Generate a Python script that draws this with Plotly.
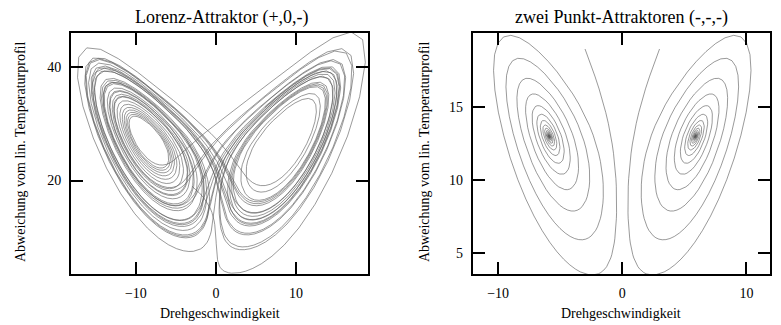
import numpy as np
import plotly.graph_objects as go

# Lorenz model parameters (Prandtl number, geometry factor, Rayleigh ratios)
SIGMA = 10.0
B_COEF = 8.0 / 3.0
R_VALUES = [28.0, 14.0]           # chaotic attractor, two point attractors

# start states (x, y, z) for each panel
STARTS_LEFT = [[-3.0, 2.0914, 19.0]]
STARTS_RIGHT = [[-3.0, -0.863, 19.0], [3.0, 0.863, 19.0]]
T_END = [35.0, 15.0]
DT_OUT = 0.02
SUBSTEPS = 4

TITLES = ["Lorenz-Attraktor (+,0,-)", "zwei Punkt-Attraktoren (-,-,-)"]
X_LABEL = "Drehgeschwindigkeit"
Y_LABEL = "Abweichung vom lin. Temperaturprofil"
X_TICKS = [-10, 0, 10]
Y_TICKS_LEFT = [20, 40]
Y_TICKS_RIGHT = [5, 10, 15]
X_RANGES = [[-18.1, 19.0], [-12.05, 11.9]]
Y_RANGES = [[3.6, 45.9], [3.54, 20.1]]


def rhs(s, r):
    x, y, z = s
    return np.array([SIGMA * (y - x), x * (r - z) - y, x * y - B_COEF * z])


def trajectory(start, r, t_end):
    h = DT_OUT / SUBSTEPS
    n = int(round(t_end / DT_OUT))
    s = np.array(start, dtype=float)
    out = np.empty((n + 1, 3))
    out[0] = s
    for i in range(n):
        for _ in range(SUBSTEPS):
            k1 = rhs(s, r)
            k2 = rhs(s + 0.5 * h * k1, r)
            k3 = rhs(s + 0.5 * h * k2, r)
            k4 = rhs(s + h * k3, r)
            s = s + h / 6.0 * (k1 + 2 * k2 + 2 * k3 + k4)
        out[i + 1] = s
    return out


W, H = 781, 325
FONT = "Liberation Serif, Times New Roman, serif"
LINE_COLOR = "#555555"

fig = go.Figure()

panels = [
    ("x", "y", STARTS_LEFT, R_VALUES[0], T_END[0]),
    ("x2", "y2", STARTS_RIGHT, R_VALUES[1], T_END[1]),
]
for xa, ya, starts, r, t_end in panels:
    for st in starts:
        tr = trajectory(st, r, t_end)
        fig.add_trace(go.Scatter(
            x=tr[:, 0], y=tr[:, 2], mode="lines", xaxis=xa, yaxis=ya,
            line=dict(color=LINE_COLOR, width=0.6), showlegend=False,
            hoverinfo="skip"))

# plot area boxes in pixels: (left, right, top, bottom)
boxes = [(71, 368, 33, 274), (472.7, 770, 33, 274)]


def px_x(v):
    return v / W


def px_y(v):
    return 1 - v / H


axis_common = dict(
    showline=True, linecolor="black", linewidth=2, mirror="ticks",
    ticks="inside", ticklen=12, tickwidth=1.6, tickcolor="black",
    showgrid=False, zeroline=False,
    tickfont=dict(family=FONT, size=14, color="black"),
    ticklabelstandoff=5,
)

layout = dict(
    width=W, height=H, margin=dict(l=0, r=0, t=0, b=0),
    paper_bgcolor="white", plot_bgcolor="white",
    font=dict(family=FONT, color="black"),
)
y_ticks = [Y_TICKS_LEFT, Y_TICKS_RIGHT]
for i, (l, rgt, t, b) in enumerate(boxes):
    sx = "" if i == 0 else str(i + 1)
    layout["xaxis" + sx] = dict(
        axis_common, domain=[px_x(l), px_x(rgt)], range=X_RANGES[i],
        tickvals=X_TICKS, anchor="y" + sx)
    layout["yaxis" + sx] = dict(
        axis_common, domain=[px_y(b), px_y(t)], range=Y_RANGES[i],
        tickvals=y_ticks[i], anchor="x" + sx)

fig.update_layout(**layout)

annotations = []
title_x = [222, 621.5]
ytitle_x = [21, 425]
for i, (l, rgt, t, b) in enumerate(boxes):
    annotations.append(dict(
        text=TITLES[i], x=px_x(title_x[i]), y=px_y(18), xref="paper", yref="paper",
        showarrow=False, xanchor="center", yanchor="middle",
        font=dict(family=FONT, size=18, color="black")))
    annotations.append(dict(
        text=X_LABEL, x=px_x((l + rgt) / 2), y=px_y(313), xref="paper", yref="paper",
        showarrow=False, xanchor="center", yanchor="middle",
        font=dict(family=FONT, size=14, color="black")))
    annotations.append(dict(
        text=Y_LABEL, x=px_x(ytitle_x[i]), y=px_y(152), xref="paper", yref="paper",
        showarrow=False, xanchor="center", yanchor="middle", textangle=-90,
        font=dict(family=FONT, size=14, color="black")))
fig.update_layout(annotations=annotations)

fig.write_html("out.html")
